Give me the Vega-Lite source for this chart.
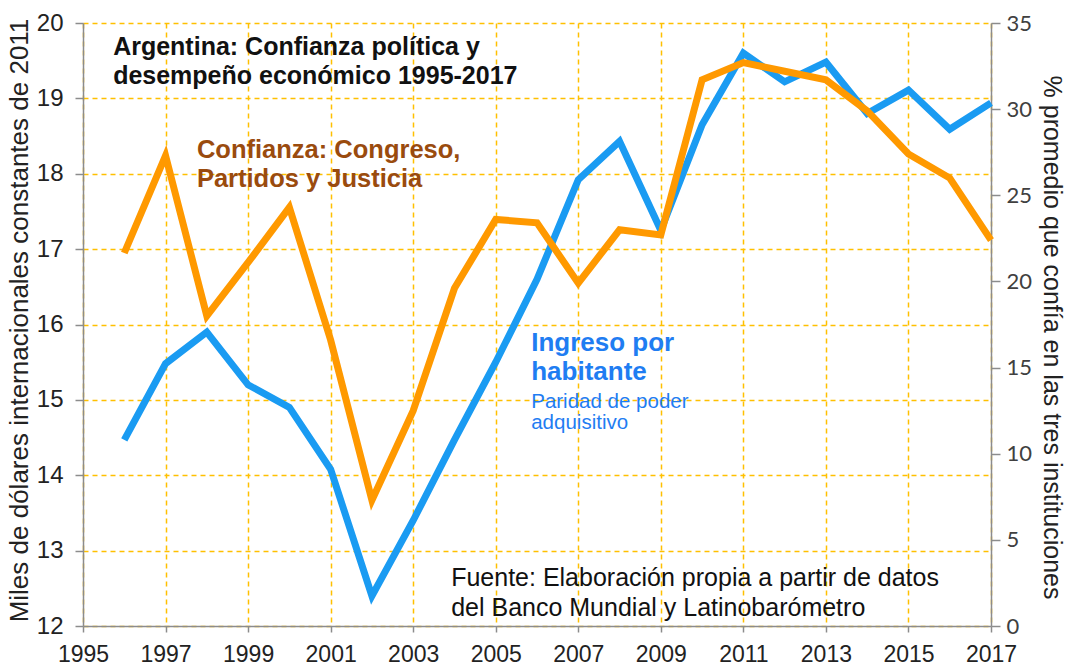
{
  "$schema": "https://vega.github.io/schema/vega-lite/v6.json",
  "width": 908,
  "height": 603,
  "autosize": {"type": "none"},
  "padding": {"left": 83, "top": 23, "right": 79, "bottom": 40},
  "background": "white",
  "config": {"view": {"stroke": null}},
  "datasets": {
    "series": [
      {"year": 1996, "ingreso": 14.47, "confianza": 21.65},
      {"year": 1997, "ingreso": 15.48, "confianza": 27.3},
      {"year": 1998, "ingreso": 15.90, "confianza": 18.0},
      {"year": 1999, "ingreso": 15.20, "confianza": 21.1},
      {"year": 2000, "ingreso": 14.90, "confianza": 24.3},
      {"year": 2001, "ingreso": 14.08, "confianza": 16.6},
      {"year": 2002, "ingreso": 12.40, "confianza": 7.3},
      {"year": 2003, "ingreso": 13.40, "confianza": 12.5},
      {"year": 2004, "ingreso": 14.47, "confianza": 19.6},
      {"year": 2005, "ingreso": 15.50, "confianza": 23.6},
      {"year": 2006, "ingreso": 16.60, "confianza": 23.4},
      {"year": 2007, "ingreso": 17.92, "confianza": 19.9},
      {"year": 2008, "ingreso": 18.43, "confianza": 23.0},
      {"year": 2009, "ingreso": 17.25, "confianza": 22.7},
      {"year": 2010, "ingreso": 18.65, "confianza": 31.7},
      {"year": 2011, "ingreso": 19.60, "confianza": 32.7},
      {"year": 2012, "ingreso": 19.22, "confianza": 32.2},
      {"year": 2013, "ingreso": 19.48, "confianza": 31.7},
      {"year": 2014, "ingreso": 18.80, "confianza": 29.9},
      {"year": 2015, "ingreso": 19.11, "confianza": 27.4},
      {"year": 2016, "ingreso": 18.59, "confianza": 26.0},
      {"year": 2017, "ingreso": 18.94, "confianza": 22.4}
    ],
    "titulo": [
      {"year": 1995.73, "ingreso": 19.68, "label": "Argentina: Confianza política y"},
      {"year": 1995.73, "ingreso": 19.30, "label": "desempeño económico 1995-2017"}
    ],
    "etiquetaConfianza": [
      {"year": 1997.76, "ingreso": 18.31, "label": "Confianza: Congreso,"},
      {"year": 1997.76, "ingreso": 17.93, "label": "Partidos y Justicia"}
    ],
    "etiquetaIngreso": [
      {"year": 2005.86, "ingreso": 15.76, "label": "Ingreso por"},
      {"year": 2005.86, "ingreso": 15.37, "label": "habitante"}
    ],
    "etiquetaParidad": [
      {"year": 2005.86, "ingreso": 14.97, "label": "Paridad de poder"},
      {"year": 2005.86, "ingreso": 14.69, "label": "adquisitivo"}
    ],
    "fuente": [
      {"year": 2003.92, "ingreso": 12.64, "label": "Fuente: Elaboración propia a partir de datos"},
      {"year": 2003.92, "ingreso": 12.24, "label": "del Banco Mundial y Latinobarómetro"}
    ]
  },
  "layer": [
    {
      "layer": [
        {
          "data": {"name": "series"},
          "mark": {"type": "line", "color": "#1A9BF2", "strokeWidth": 7, "strokeJoin": "miter", "strokeCap": "butt"},
          "encoding": {
            "x": {
              "field": "year", "type": "quantitative",
              "scale": {"domain": [1995, 2017], "nice": false, "zero": false},
              "axis": {
                "values": [1995, 1997, 1999, 2001, 2003, 2005, 2007, 2009, 2011, 2013, 2015, 2017],
                "format": "d", "title": null,
                "grid": true, "gridColor": "#FFC000", "gridDash": [5, 4], "gridWidth": 1.5,
                "domainColor": "#8c8c8c", "domainWidth": 1.5,
                "tickColor": "#8c8c8c", "tickSize": 6, "tickWidth": 1.5,
                "labelFont": "Liberation Sans", "labelFontSize": 23, "labelColor": "#222222",
                "labelPadding": 11, "labelFlush": false
              }
            },
            "y": {
              "field": "ingreso", "type": "quantitative",
              "scale": {"domain": [12, 20], "nice": false, "zero": false},
              "axis": {
                "values": [12, 13, 14, 15, 16, 17, 18, 19, 20],
                "format": "d",
                "title": "Miles de dólares internacionales constantes de 2011",
                "titleFont": "Liberation Sans", "titleFontSize": 26, "titleFontWeight": "normal", "titleColor": "#222222",
                "titleAngle": -90, "titleX": -56, "titleY": 297, "titleBaseline": "alphabetic", "titleAlign": "center",
                "grid": true, "gridColor": "#FFC000", "gridDash": [5, 4], "gridWidth": 1.5,
                "domainColor": "#8c8c8c", "domainWidth": 1.5,
                "tickColor": "#8c8c8c", "tickSize": 8, "tickWidth": 1.5,
                "labelFont": "Liberation Sans", "labelFontSize": 24, "labelColor": "#222222",
                "labelPadding": 12, "labelFlush": false
              }
            }
          }
        },
        {
          "data": {"name": "titulo"},
          "mark": {"type": "text", "align": "left", "baseline": "middle", "font": "Liberation Sans", "fontSize": 25, "fontWeight": "bold", "color": "#111111"},
          "encoding": {
            "x": {"field": "year", "type": "quantitative"},
            "y": {"field": "ingreso", "type": "quantitative"},
            "text": {"field": "label", "type": "nominal"}
          }
        },
        {
          "data": {"name": "etiquetaConfianza"},
          "mark": {"type": "text", "align": "left", "baseline": "middle", "font": "Liberation Sans", "fontSize": 25.5, "fontWeight": "bold", "color": "#9A4B0E"},
          "encoding": {
            "x": {"field": "year", "type": "quantitative"},
            "y": {"field": "ingreso", "type": "quantitative"},
            "text": {"field": "label", "type": "nominal"}
          }
        },
        {
          "data": {"name": "etiquetaIngreso"},
          "mark": {"type": "text", "align": "left", "baseline": "middle", "font": "Liberation Sans", "fontSize": 26, "fontWeight": "bold", "color": "#1F7DF2"},
          "encoding": {
            "x": {"field": "year", "type": "quantitative"},
            "y": {"field": "ingreso", "type": "quantitative"},
            "text": {"field": "label", "type": "nominal"}
          }
        },
        {
          "data": {"name": "etiquetaParidad"},
          "mark": {"type": "text", "align": "left", "baseline": "middle", "font": "Liberation Sans", "fontSize": 20.5, "color": "#1F7DF2"},
          "encoding": {
            "x": {"field": "year", "type": "quantitative"},
            "y": {"field": "ingreso", "type": "quantitative"},
            "text": {"field": "label", "type": "nominal"}
          }
        },
        {
          "data": {"name": "fuente"},
          "mark": {"type": "text", "align": "left", "baseline": "middle", "font": "Liberation Sans", "fontSize": 25, "color": "#111111"},
          "encoding": {
            "x": {"field": "year", "type": "quantitative"},
            "y": {"field": "ingreso", "type": "quantitative"},
            "text": {"field": "label", "type": "nominal"}
          }
        }
      ]
    },
    {
      "data": {"name": "series"},
      "mark": {"type": "line", "color": "#FF9900", "strokeWidth": 7, "strokeJoin": "miter", "strokeCap": "butt"},
      "encoding": {
        "x": {"field": "year", "type": "quantitative"},
        "y": {
          "field": "confianza", "type": "quantitative",
          "scale": {"domain": [0, 35], "nice": false},
          "axis": {
            "orient": "right",
            "values": [0, 5, 10, 15, 20, 25, 30, 35],
            "title": "% promedio que confía en las tres instituciones",
            "titleFont": "Liberation Sans", "titleFontSize": 25, "titleFontWeight": "normal", "titleColor": "#222222",
            "titleAngle": 90, "titleX": 52, "titleY": 314, "titleBaseline": "alphabetic", "titleAlign": "center",
            "grid": false,
            "domainColor": "#8c8c8c", "domainWidth": 1.5,
            "tickColor": "#8c8c8c", "tickSize": 9, "tickWidth": 1.5,
            "labelFont": "Lato", "labelFontSize": 22, "labelColor": "#404040",
            "labelPadding": 6, "labelFlush": false
          }
        }
      }
    }
  ],
  "resolve": {"scale": {"y": "independent"}}
}
